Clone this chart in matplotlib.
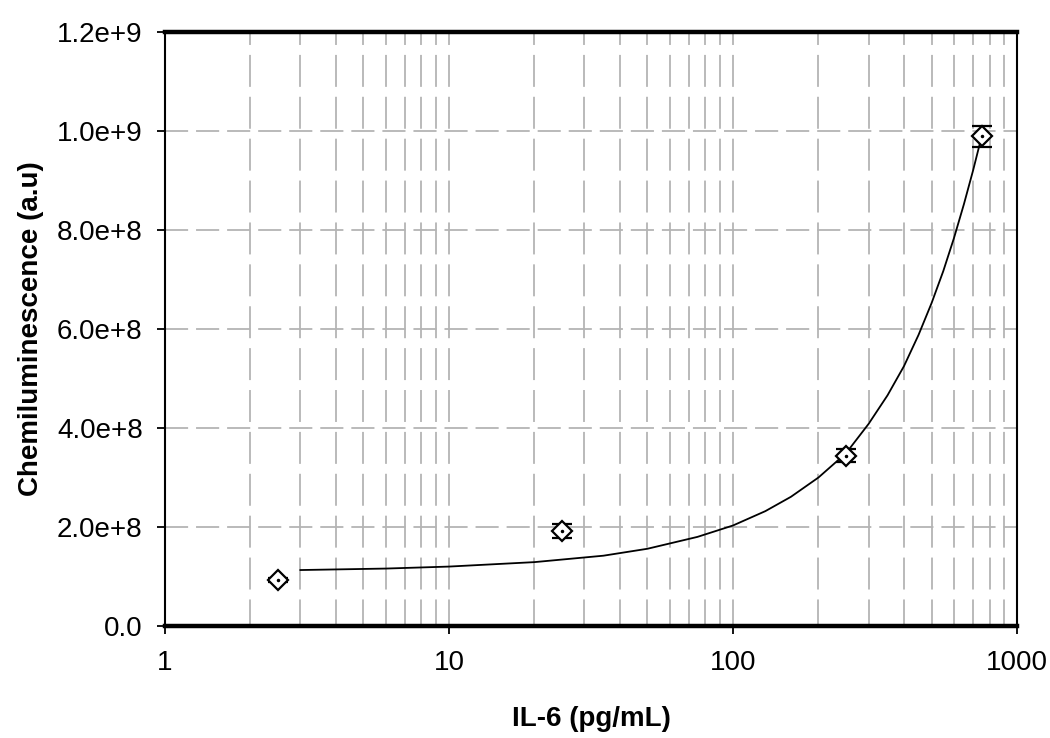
import matplotlib
matplotlib.use('Agg')
import matplotlib.pyplot as plt
import numpy as np
from matplotlib.ticker import FixedLocator, FixedFormatter, LogLocator, NullFormatter

plt.rcParams['font.family'] = ['Liberation Sans', 'DejaVu Sans']

# measured points (IL-6 standards)
concentrations = [2.5, 25, 250, 750]
signals = [9.3e7, 1.92e8, 3.44e8, 9.89e8]
signalErrors = [4e6, 1.4e7, 1.3e7, 2.1e7]

# fitted curve
fitX = [3, 6, 10, 20, 35, 50, 75, 100, 130, 160, 200, 250, 300, 350, 400,
        450, 500, 550, 600, 650, 700, 740]
fitY = [1.13e8, 1.16e8, 1.20e8, 1.29e8, 1.42e8, 1.56e8, 1.80e8, 2.03e8,
        2.32e8, 2.61e8, 3.00e8, 3.49e8, 4.08e8, 4.66e8, 5.25e8, 5.88e8,
        6.52e8, 7.17e8, 7.84e8, 8.52e8, 9.20e8, 9.75e8]

yTicks = [0, 2e8, 4e8, 6e8, 8e8, 1.0e9, 1.2e9]
yTickLabels = ['0.0', '2.0e+8', '4.0e+8', '6.0e+8', '8.0e+8', '1.0e+9', '1.2e+9']
xTicks = [1, 10, 100, 1000]
xTickLabels = ['1', '10', '100', '1000']

fig = plt.figure(figsize=(10.5, 7.38), dpi=100)
ax = fig.add_axes([0.157, 0.1518, 0.8116, 0.8048])

ax.set_xscale('log')
ax.set_xlim(1, 1000)
ax.set_ylim(0, 1.2e9)

gridColor = '#b4b4b4'
ax.grid(axis='y', which='major', color=gridColor, linewidth=1.3, linestyle=(0, (12.8, 4.4)))
ax.grid(axis='x', which='both', color=gridColor, linewidth=1.3, linestyle=(3, (17.7, 5.5)))
ax.set_axisbelow(True)

ax.plot(fitX, fitY, color='black', linewidth=1.3, zorder=3)
ax.errorbar(concentrations, signals, yerr=signalErrors, fmt='D', mfc='white', mec='black',
            ms=10, mew=1.6, ecolor='black', elinewidth=1.2, capsize=7.2, capthick=1.6, zorder=4)
ax.plot(concentrations, signals, linestyle='none', marker='o', ms=1.5, color='black', zorder=5)

ax.yaxis.set_major_locator(FixedLocator(yTicks))
ax.yaxis.set_major_formatter(FixedFormatter(yTickLabels))
ax.xaxis.set_major_locator(FixedLocator(xTicks))
ax.xaxis.set_major_formatter(FixedFormatter(xTickLabels))
ax.xaxis.set_minor_locator(LogLocator(base=10, subs=np.arange(2, 10)))
ax.xaxis.set_minor_formatter(NullFormatter())

ax.tick_params(axis='both', which='major', direction='out', length=6, width=1.3,
               labelsize=20, colors='black')
ax.tick_params(axis='y', which='major', pad=10)
ax.tick_params(axis='x', which='major', pad=11)
ax.tick_params(axis='x', which='minor', length=0)

for side in ['left', 'right']:
    ax.spines[side].set_linewidth(1.5)
for side in ['top', 'bottom']:
    ax.spines[side].set_linewidth(3.2)

ax.set_xlabel('IL-6 (pg/mL)', fontsize=20, fontweight='bold', labelpad=22)
ax.set_ylabel('Chemiluminescence (a.u)', fontsize=20, fontweight='bold', labelpad=9)

fig.savefig('out.png', dpi=100)
